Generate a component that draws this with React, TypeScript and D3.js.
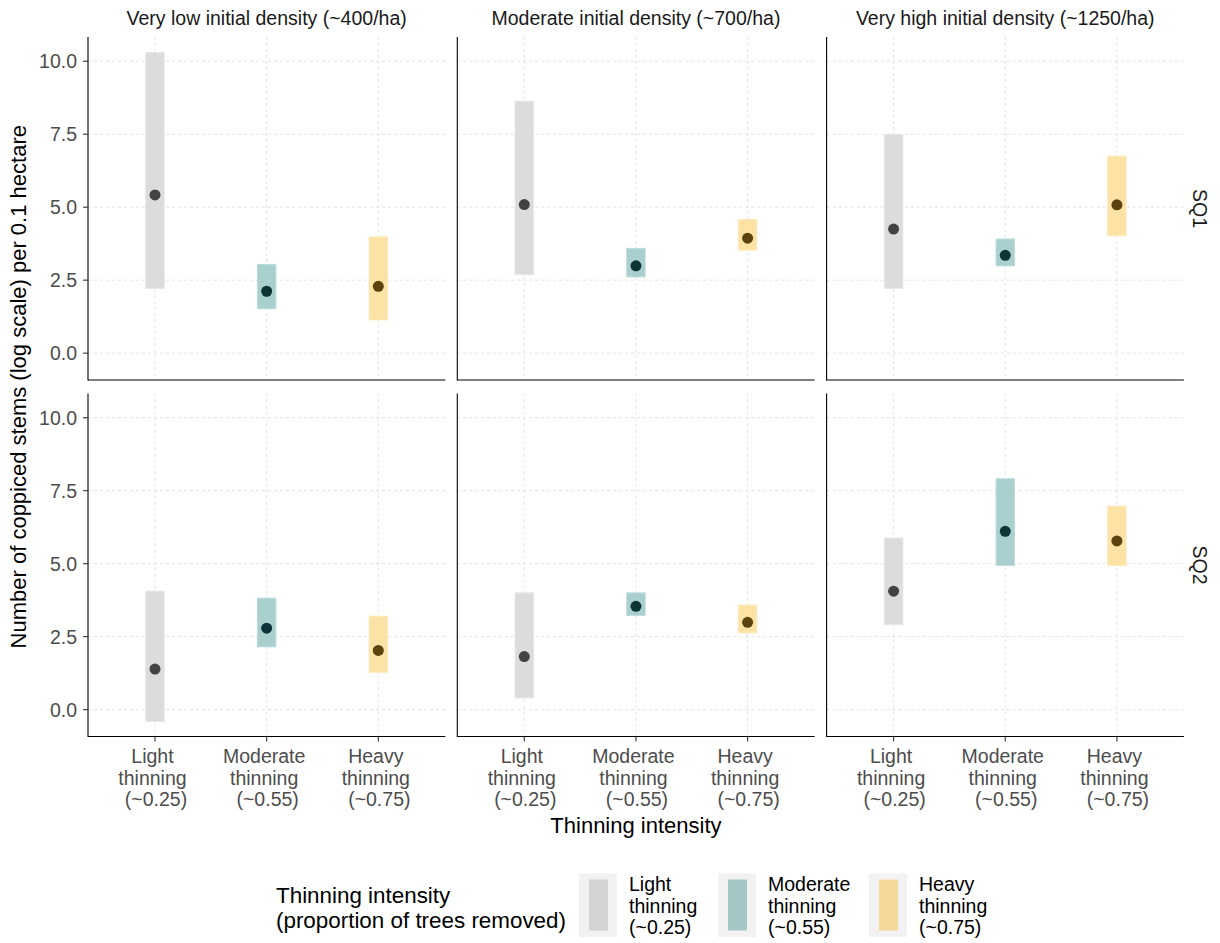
import React from "react";
import * as d3 from "d3";

const densities = [
  "Very low initial density (~400/ha)",
  "Moderate initial density (~700/ha)",
  "Very high initial density (~1250/ha)",
];
const siteQualities = ["SQ1", "SQ2"];
const intensityKeys = ["light", "moderate", "heavy"];
const intensityLabels = [
  ["Light", "thinning", "(~0.25)"],
  ["Moderate", "thinning", "(~0.55)"],
  ["Heavy", "thinning", "(~0.75)"],
];
const yTicks = [0, 2.5, 5, 7.5, 10];
const yTickLabels = ["0.0", "2.5", "5.0", "7.5", "10.0"];

// [density][intensity]
const sq1Estimate = [
  [5.42, 2.12, 2.29],
  [5.09, 2.99, 3.94],
  [4.25, 3.35, 5.08],
];
const sq1Lower = [
  [2.22, 1.52, 1.14],
  [2.69, 2.61, 3.53],
  [2.22, 2.99, 4.02],
];
const sq1Upper = [
  [10.3, 3.04, 3.98],
  [8.63, 3.59, 4.58],
  [7.49, 3.91, 6.75],
];
const sq2Estimate = [
  [1.39, 2.79, 2.03],
  [1.82, 3.54, 2.99],
  [4.06, 6.11, 5.78],
];
const sq2Lower = [
  [-0.41, 2.15, 1.28],
  [0.4, 3.23, 2.63],
  [2.91, 4.94, 4.94],
];
const sq2Upper = [
  [4.06, 3.82, 3.2],
  [4.0, 4.0, 3.58],
  [5.88, 7.91, 6.97],
];

const estimates = [sq1Estimate, sq2Estimate];
const lowers = [sq1Lower, sq2Lower];
const uppers = [sq1Upper, sq2Upper];

const rectFill: Record<string, string> = {
  light: "#dcdcdc",
  moderate: "#a9cfcf",
  heavy: "#fde2a6",
};
const rectStroke: Record<string, string> = {
  light: "#e6e6e6",
  moderate: "#bcdcdc",
  heavy: "#fee9b9",
};
const pointFill: Record<string, string> = {
  light: "#424242",
  moderate: "#0e3535",
  heavy: "#5b430f",
};
const keyFill: Record<string, string> = {
  light: "#d4d4d4",
  moderate: "#a4c7c6",
  heavy: "#f5d99b",
};

const FONT = "'Liberation Sans', Arial, Helvetica, sans-serif";

export default function App() {
  const W = 1220;
  const H = 943;
  const panelLeft0 = 88;
  const panelW = 357.3;
  const gapX = 12;
  const panelTop0 = 37;
  const panelH = 343;
  const gapY = 13.5;

  const y = d3.scaleLinear().domain([-0.92, 10.83]).range([panelH, 0]);
  const x = d3.scaleLinear().domain([0.4, 3.6]).range([0, panelW]);
  const halfBar = 0.0825;

  const panels: JSX.Element[] = [];
  siteQualities.forEach((sq, r) => {
    densities.forEach((dens, c) => {
      const px = panelLeft0 + c * (panelW + gapX);
      const py = panelTop0 + r * (panelH + gapY);
      panels.push(
        <g key={`p-${r}-${c}`} transform={`translate(${px},${py})`}>
          {/* grid */}
          {yTicks.map((t) => (
            <line
              key={`gy${t}`}
              x1={0}
              x2={panelW}
              y1={y(t)}
              y2={y(t)}
              stroke="#dadada"
              strokeWidth={0.75}
              strokeDasharray="3,3"
            />
          ))}
          {intensityKeys.map((k, i) => (
            <line
              key={`gx${k}`}
              x1={x(i + 1)}
              x2={x(i + 1)}
              y1={0}
              y2={panelH}
              stroke="#dadada"
              strokeWidth={0.75}
              strokeDasharray="3,3"
            />
          ))}
          {/* intervals */}
          {intensityKeys.map((k, i) => {
            const lo = lowers[r][c][i];
            const hi = uppers[r][c][i];
            return (
              <rect
                key={`r${k}`}
                x={x(i + 1 - halfBar)}
                width={x(i + 1 + halfBar) - x(i + 1 - halfBar)}
                y={y(hi)}
                height={y(lo) - y(hi)}
                fill={rectFill[k]}
                stroke={rectStroke[k]}
                strokeWidth={1}
              />
            );
          })}
          {intensityKeys.map((k, i) => (
            <circle
              key={`c${k}`}
              cx={x(i + 1)}
              cy={y(estimates[r][c][i])}
              r={5.5}
              fill={pointFill[k]}
            />
          ))}
          {/* axes */}
          <line x1={0} x2={0} y1={0} y2={panelH + 0.5} stroke="#000" strokeWidth={1.1} />
          <line x1={0} x2={panelW} y1={panelH} y2={panelH} stroke="#000" strokeWidth={1.1} />
          {c === 0 &&
            yTicks.map((t, ti) => (
              <g key={`yt${t}`}>
                <line x1={-5} x2={0} y1={y(t)} y2={y(t)} stroke="#333" strokeWidth={1.1} />
                <text
                  x={-11}
                  y={y(t)}
                  dy="0.36em"
                  textAnchor="end"
                  fontSize={19.5}
                  fill="#4d4d4d"
                  fontFamily={FONT}
                >
                  {yTickLabels[ti]}
                </text>
              </g>
            ))}
          {r === siteQualities.length - 1 &&
            intensityKeys.map((k, i) => (
              <g key={`xt${k}`}>
                <line
                  x1={x(i + 1)}
                  x2={x(i + 1)}
                  y1={panelH}
                  y2={panelH + 5}
                  stroke="#333"
                  strokeWidth={1.1}
                />
                {intensityLabels[i].map((ln, li) => (
                  <text
                    key={li}
                    x={x(i + 1) + (li === 2 ? 1 : -2.5)}
                    y={panelH + 26.5 + li * 21.7}
                    textAnchor="middle"
                    fontSize={19.5}
                    fill="#4d4d4d"
                    fontFamily={FONT}
                  >
                    {ln}
                  </text>
                ))}
              </g>
            ))}
          {r === 0 && (
            <text
              x={panelW / 2}
              y={-12}
              textAnchor="middle"
              fontSize={19.5}
              fill="#1a1a1a"
              fontFamily={FONT}
            >
              {dens}
            </text>
          )}
          {c === densities.length - 1 && (
            <text
              transform={`translate(${panelW + 16},${panelH / 2}) rotate(90)`}
              textAnchor="middle"
              dy="0.36em"
              fontSize={19.5}
              fill="#1a1a1a"
              fontFamily={FONT}
            >
              {sq}
            </text>
          )}
        </g>
      );
    });
  });

  const totalRight = panelLeft0 + 3 * panelW + 2 * gapX;
  const plotCenterX = (panelLeft0 + totalRight) / 2;
  const plotCenterY = panelTop0 + panelH + gapY / 2;

  const legendKeyX = [579, 718, 869];

  return (
    <svg
      width={W}
      height={H}
      style={{ position: "absolute", left: 0, top: 0, background: "#fff" }}
    >
      <rect x={0} y={0} width={W} height={H} fill="#fff" />
      {panels}
      <text
        x={plotCenterX}
        y={833}
        textAnchor="middle"
        fontSize={22}
        fill="#000"
        fontFamily={FONT}
      >
        Thinning intensity
      </text>
      <text
        transform={`translate(26,${plotCenterY}) rotate(-90)`}
        textAnchor="middle"
        fontSize={22}
        fill="#000"
        fontFamily={FONT}
      >
        Number of coppiced stems (log scale) per 0.1 hectare
      </text>
      {/* legend */}
      <text x={276} y={903} fontSize={22.4} fill="#000" fontFamily={FONT}>
        Thinning intensity
      </text>
      <text x={276} y={928} fontSize={22.4} fill="#000" fontFamily={FONT}>
        (proportion of trees removed)
      </text>
      {intensityKeys.map((k, i) => (
        <g key={`lg${k}`}>
          <rect x={legendKeyX[i]} y={873.5} width={38} height={63.5} fill="#f2f2f2" />
          <rect x={legendKeyX[i] + 10} y={879.5} width={19} height={51} fill={keyFill[k]} />
          {intensityLabels[i].map((ln, li) => (
            <text
              key={li}
              x={legendKeyX[i] + 50}
              y={891 + li * 21.5}
              fontSize={19.5}
              fill="#000"
              fontFamily={FONT}
            >
              {ln}
            </text>
          ))}
        </g>
      ))}
    </svg>
  );
}
